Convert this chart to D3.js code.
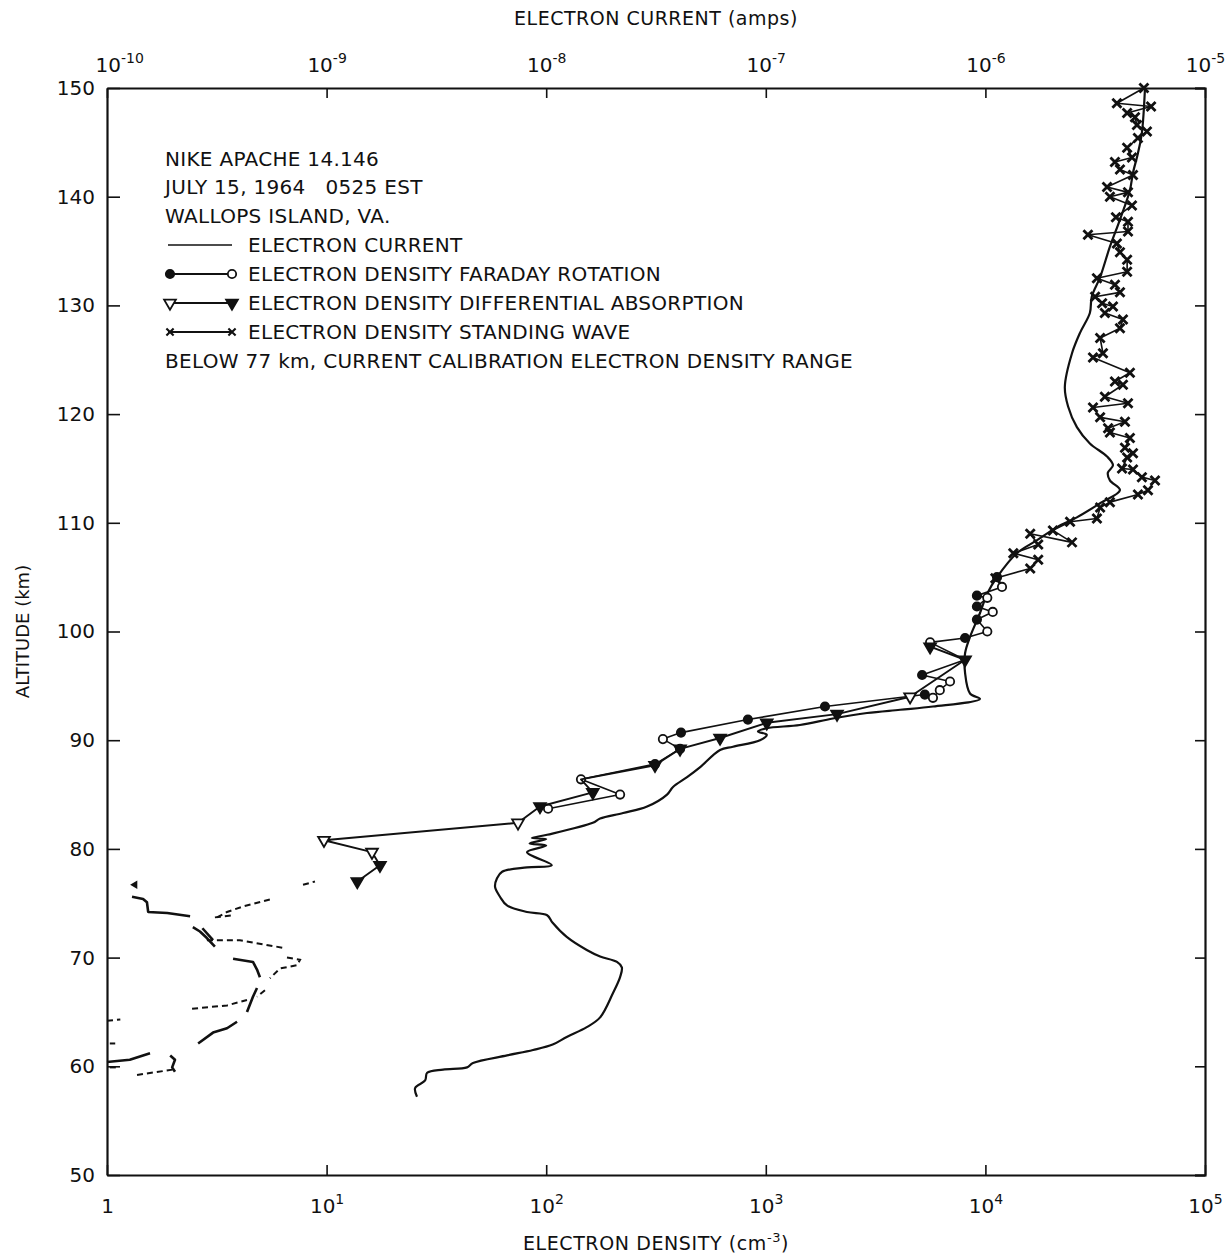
<!DOCTYPE html>
<html>
<head>
<meta charset="utf-8">
<script src="https://cdn.jsdelivr.net/npm/d3@7"></script>
<style>
  body { margin: 0; background: #fff; }
  text { font-family: "DejaVu Sans", sans-serif; fill: #111; }
</style>
</head>
<body>
<div id="chart"></div>
<script>
var svgW = 1232;
var svgH = 1257;

var margin = {
  top: 88,
  right: 27,
  bottom: 82,
  left: 107
};

var width = svgW - margin.left - margin.right;
var height = svgH - margin.top - margin.bottom;

// axes
var densityTicks = [1, 1e1, 1e2, 1e3, 1e4, 1e5];
var currentTicks = [1e-10, 1e-9, 1e-8, 1e-7, 1e-6, 1e-5];
var altTicks = [50, 60, 70, 80, 90, 100, 110, 120, 130, 140, 150];

// electron current (amps, top axis) vs altitude (km)
var currentAlt = [57.2, 58.0, 58.7, 59.4, 59.7, 59.9, 60.3, 61.0, 61.5, 62.0, 62.7, 63.6, 64.5, 66.7, 68.2, 69.1, 69.6, 70.1, 70.7, 71.9,
  73.2, 73.9, 74.2, 74.8, 75.6, 76.5, 77.3, 77.9, 78.3, 78.5, 79.7, 80.3, 80.5, 80.9, 81.0, 81.3, 82.4, 82.8, 83.3, 83.9,
  85.0, 85.7, 86.6, 87.5, 89.1, 89.4, 90.0, 90.5, 90.8, 91.1, 91.4, 92.0, 92.5, 92.8, 93.1, 93.8, 94.3, 96.2, 98.0, 99.5,
  101.7, 103.5, 105.0, 107.2, 108.4, 109.6, 110.5, 111.8, 113.0, 113.9, 114.6, 115.3, 116.1, 117.3, 118.8, 120.7, 122.5,
  125.6, 127.5, 129.3, 130.8, 132.6, 135.4, 137.9, 140.6, 142.2, 144.0, 145.9, 150.0];
var currentAmps = [2.58e-9, 2.53e-9, 2.81e-9, 2.87e-9, 3.39e-9, 4.36e-9, 4.64e-9, 6.63e-9, 8.71e-9, 1.07e-8, 1.24e-8, 1.53e-8,
  1.76e-8, 2.01e-8, 2.17e-8, 2.21e-8, 2.10e-8, 1.76e-8, 1.53e-8, 1.24e-8, 1.07e-8, 1.01e-8, 8.18e-9, 6.63e-9, 6.16e-9,
  5.85e-9, 5.97e-9, 6.30e-9, 8.18e-9, 1.06e-8, 8.18e-9, 1.0e-8, 8.4e-9, 1.0e-8, 8.6e-9, 1.01e-8, 1.63e-8, 1.76e-8, 2.24e-8,
  2.88e-8, 3.55e-8, 3.78e-8, 4.38e-8, 5.01e-8, 6.19e-8, 7.09e-8, 9.41e-8, 1.01e-7, 9.21e-8, 1.01e-7, 1.43e-7, 2.02e-7,
  2.89e-7, 4.09e-7, 5.77e-7, 9.45e-7, 8.51e-7, 8.08e-7, 8.08e-7, 8.51e-7, 9.45e-7, 1.02e-6, 1.13e-6, 1.39e-6, 1.72e-6,
  2.12e-6, 2.61e-6, 3.33e-6, 4.10e-6, 3.69e-6, 3.61e-6, 3.81e-6, 3.58e-6, 2.99e-6, 2.61e-6, 2.38e-6, 2.30e-6, 2.48e-6,
  2.70e-6, 2.99e-6, 3.05e-6, 3.33e-6, 3.69e-6, 4.10e-6, 4.55e-6, 4.70e-6, 4.95e-6, 5.16e-6, 5.33e-6];

// Faraday rotation (f = filled circle, o = open circle, n = no marker)
var faradayAlt = [83.7, 85.0, 86.4, 87.8, 89.2, 90.1, 90.7, 91.9, 93.1, 94.2, 93.9, 94.6, 95.4, 96.0, 97.4, 99.0, 99.4,
  100.0, 101.1, 101.8, 102.3, 103.1, 103.3, 104.1, 105.0];
var faradayDen = [102, 217, 144, 313, 407, 340, 411, 829, 1860, 5300, 5770, 6200, 6900, 5150, 8080, 5600, 8080,
  10200, 9150, 10800, 9150, 10200, 9150, 11900, 11300];
var faradayMark = ["o", "o", "o", "f", "f", "o", "f", "f", "f", "f", "o", "o", "o", "f", "n", "o", "f",
  "o", "f", "o", "f", "o", "f", "o", "f"];

// differential absorption (f = filled triangle, o = open triangle)
var absorptionAlt = [77.0, 78.5, 79.7, 80.8, 82.4, 83.9, 85.2, 86.4, 87.7, 89.2, 90.2, 91.6, 92.4, 94.0, 97.4, 98.6];
var absorptionDen = [13.8, 17.5, 16.1, 9.73, 74.4, 93.7, 163, 144, 313, 407, 619, 1010, 2110, 4540, 8080, 5600];
var absorptionMark = ["f", "f", "o", "o", "o", "f", "f", "n", "f", "f", "f", "f", "f", "o", "f", "f"];

// standing wave
var waveAlt = [104.9, 105.8, 106.6, 107.2, 108.0, 109.0, 108.2, 109.3, 110.1, 110.4, 111.4, 111.9, 112.6, 113.0, 113.9,
  114.2, 114.9, 115.0, 116.0, 116.4, 116.9, 117.8, 118.3, 118.7, 119.3, 119.7, 120.6, 121.0, 121.6, 122.7, 123.0, 123.8,
  125.2, 125.6, 127.0, 127.9, 128.7, 129.3, 129.9, 130.2, 130.8, 131.2, 131.9, 132.5, 133.1, 134.2, 134.9, 135.7, 136.5,
  136.8, 137.7, 138.1, 139.2, 140.0, 140.4, 140.9, 142.0, 142.5, 143.2, 143.6, 144.5, 145.4, 146.0, 146.6, 147.3, 147.7,
  148.3, 148.6, 150.0];
var waveDen = [11100, 16000, 17400, 13400, 17400, 16000, 24800, 20300, 24300, 32200, 33300, 36900, 49500, 55000, 59200,
  51600, 47000, 41900, 44200, 47000, 43200, 45500, 36900, 36200, 43200, 33300, 30900, 44600, 35000, 42300, 38900, 45500,
  30900, 34300, 33300, 41000, 42300, 35000, 38100, 34000, 31600, 41000, 38900, 32200, 44200, 44200, 41000, 39700, 29300,
  44600, 44600, 39300, 46500, 36900, 44600, 35800, 47000, 41000, 38900, 46500, 44200, 49500, 54400, 49000, 48000, 44200,
  56800, 39700, 52700];

// below 77 km: calibration range fragments, [density, altitude]
var calibSolid = [
  [[1.30, 75.6], [1.46, 75.4], [1.52, 75.1], [1.54, 74.2], [1.88, 74.1], [2.39, 73.8]],
  [[2.46, 72.8], [2.65, 72.4], [2.85, 71.8], [3.10, 71.0]],
  [[2.72, 72.7], [3.04, 71.6]],
  [[3.75, 69.9], [4.62, 69.6], [4.82, 68.9], [4.97, 68.2]],
  [[4.82, 67.2], [4.62, 66.4], [4.34, 65.0]],
  [[2.60, 62.1], [3.04, 63.1], [3.52, 63.5], [3.91, 64.1]],
  [[1.0, 60.4], [1.27, 60.6], [1.57, 61.2]],
  [[1.94, 61.0], [2.04, 60.6], [1.98, 59.9], [2.04, 59.5]]
];
var calibDashed = [
  [[7.81, 76.7], [8.85, 77.0]],
  [[3.17, 73.7], [3.52, 74.2], [4.16, 74.7], [5.64, 75.4]],
  [[3.10, 73.7], [3.75, 73.9]],
  [[2.85, 71.6], [4.03, 71.6], [6.33, 70.9]],
  [[6.60, 70.0], [7.57, 69.8], [7.33, 69.3], [6.13, 69.0], [5.52, 68.1]],
  [[5.24, 67.0], [4.82, 66.4]],
  [[2.44, 65.3], [3.52, 65.6], [4.34, 66.1]],
  [[1.0, 64.2], [1.15, 64.3]],
  [[1.03, 62.1], [1.09, 62.1]],
  [[1.03, 59.9], [1.12, 59.9]],
  [[1.37, 59.2], [2.0, 59.7]]
];
var calibArrow = [[1.34, 76.7]];

var headerLines = ["NIKE APACHE 14.146", "JULY 15, 1964   0525 EST", "WALLOPS ISLAND, VA."];
var seriesLabels = ["ELECTRON CURRENT", "ELECTRON DENSITY FARADAY ROTATION",
  "ELECTRON DENSITY DIFFERENTIAL ABSORPTION", "ELECTRON DENSITY STANDING WAVE"];
var footLine = "BELOW 77 km, CURRENT CALIBRATION ELECTRON DENSITY RANGE";


var svg = d3.select("#chart")
  .append("svg")
  .attr("width", svgW)
  .attr("height", svgH);

var chartGroup = svg.append("g")
  .attr("transform", `translate(${margin.left}, ${margin.top})`);

var xDensity = d3.scaleLog().domain([1, 1e5]).range([0, width]);
var xCurrent = d3.scaleLog().domain([1e-10, 1e-5]).range([0, width]);
var yAlt = d3.scaleLinear().domain([50, 150]).range([height, 0]);

function powerLabel(sel, exp) {
  sel.text(null);
  sel.append("tspan").text("10");
  sel.append("tspan").attr("dy", -9).attr("font-size", 14).text(exp);
}

function styleAxis(g) {
  g.attr("font-size", 20);
  g.select(".domain").attr("stroke-width", 2.2).attr("stroke", "#111");
  g.selectAll(".tick line").attr("stroke-width", 1.6).attr("stroke", "#111");
  g.selectAll(".tick text").attr("fill", "#111");
}

// bottom axis
var xAxis = chartGroup.append("g")
  .attr("transform", `translate(0, ${height})`)
  .call(d3.axisBottom(xDensity).tickValues(densityTicks).tickSize(-10).tickSizeOuter(0).tickPadding(24))
  .call(styleAxis);
xAxis.selectAll(".tick text").each(function(d) {
  var e = Math.round(Math.log10(d));
  if (e === 0) d3.select(this).text("1");
  else powerLabel(d3.select(this), String(e));
});

// top axis
var topAxis = chartGroup.append("g")
  .call(d3.axisTop(xCurrent).tickValues(currentTicks).tickSize(-10).tickSizeOuter(0).tickPadding(16))
  .call(styleAxis);
topAxis.selectAll(".tick text").each(function(d, i) {
  var e = Math.round(Math.log10(d));
  powerLabel(d3.select(this), "-" + Math.abs(e));
  if (i === 0) d3.select(this).attr("text-anchor", "start").attr("x", -12);
});

// left and right axes
chartGroup.append("g")
  .call(d3.axisLeft(yAlt).tickValues(altTicks).tickSize(-13).tickSizeOuter(0).tickPadding(12))
  .call(styleAxis);

chartGroup.append("g")
  .attr("transform", `translate(${width}, 0)`)
  .call(d3.axisRight(yAlt).tickValues(altTicks).tickSize(-10).tickFormat(""))
  .call(styleAxis);

// axis titles
svg.append("text")
  .attr("x", margin.left + width / 2)
  .attr("y", 25)
  .attr("text-anchor", "middle")
  .attr("font-size", 19)
  .attr("letter-spacing", 0.5)
  .text("ELECTRON CURRENT (amps)");

var bottomTitle = svg.append("text")
  .attr("x", margin.left + width / 2)
  .attr("y", 1250)
  .attr("text-anchor", "middle")
  .attr("font-size", 19)
  .attr("letter-spacing", 0.6);
bottomTitle.append("tspan").text("ELECTRON DENSITY (cm");
bottomTitle.append("tspan").attr("dy", -8).attr("font-size", 13).text("-3");
bottomTitle.append("tspan").attr("dy", 8).text(")");

svg.append("text")
  .attr("transform", `translate(29, ${margin.top + height / 2}) rotate(-90)`)
  .attr("text-anchor", "middle")
  .attr("font-size", 18)
  .text("ALTITUDE (km)");

// electron current curve
var currentData = d3.zip(currentAmps, currentAlt);
var currentLine = d3.line()
  .x(d => xCurrent(d[0]))
  .y(d => yAlt(d[1]))
  .curve(d3.curveCatmullRom.alpha(0.5));

chartGroup.append("path")
  .datum(currentData)
  .attr("d", currentLine)
  .attr("fill", "none")
  .attr("stroke", "#111")
  .attr("stroke-width", 2.2)
  .attr("stroke-linejoin", "round");

// calibration fragments below 77 km
var densityLine = d3.line()
  .x(d => xDensity(d[0]))
  .y(d => yAlt(d[1]));

chartGroup.selectAll(".calib-solid")
  .data(calibSolid)
  .enter()
  .append("path")
  .attr("d", densityLine)
  .attr("fill", "none")
  .attr("stroke", "#111")
  .attr("stroke-width", 2.6)
  .attr("stroke-linejoin", "round");

chartGroup.selectAll(".calib-dashed")
  .data(calibDashed)
  .enter()
  .append("path")
  .attr("d", densityLine)
  .attr("fill", "none")
  .attr("stroke", "#111")
  .attr("stroke-width", 2)
  .attr("stroke-dasharray", "6,4");

chartGroup.selectAll(".calib-arrow")
  .data(calibArrow)
  .enter()
  .append("path")
  .attr("d", d3.symbol().type(d3.symbolTriangle).size(30))
  .attr("transform", d => `translate(${xDensity(d[0])}, ${yAlt(d[1])}) rotate(-90)`)
  .attr("fill", "#111");

// marker helpers
var circlePath = d3.symbol().type(d3.symbolCircle).size(55);
var trianglePath = d3.symbol().type(d3.symbolTriangle).size(60);
var crossPath = "M-4.5,-4.5L4.5,4.5M-4.5,4.5L4.5,-4.5";

function drawSeries(den, alt, width) {
  chartGroup.append("path")
    .datum(d3.zip(den, alt))
    .attr("d", densityLine)
    .attr("fill", "none")
    .attr("stroke", "#111")
    .attr("stroke-width", width)
    .attr("stroke-linejoin", "round");
}

// Faraday rotation
drawSeries(faradayDen, faradayAlt, 1.6);
chartGroup.selectAll(".faraday")
  .data(d3.zip(faradayDen, faradayAlt, faradayMark).filter(d => d[2] !== "n"))
  .enter()
  .append("path")
  .attr("d", circlePath)
  .attr("transform", d => `translate(${xDensity(d[0])}, ${yAlt(d[1])})`)
  .attr("fill", d => d[2] === "f" ? "#111" : "#fff")
  .attr("stroke", "#111")
  .attr("stroke-width", 1.8);

// differential absorption
drawSeries(absorptionDen, absorptionAlt, 1.9);
chartGroup.selectAll(".absorption")
  .data(d3.zip(absorptionDen, absorptionAlt, absorptionMark).filter(d => d[2] !== "n"))
  .enter()
  .append("path")
  .attr("d", trianglePath)
  .attr("transform", d => `translate(${xDensity(d[0])}, ${yAlt(d[1])}) rotate(180)`)
  .attr("fill", d => d[2] === "f" ? "#111" : "#fff")
  .attr("stroke", "#111")
  .attr("stroke-width", 1.8);

// standing wave
drawSeries(waveDen, waveAlt, 1.6);
chartGroup.selectAll(".wave")
  .data(d3.zip(waveDen, waveAlt))
  .enter()
  .append("path")
  .attr("d", crossPath)
  .attr("transform", d => `translate(${xDensity(d[0])}, ${yAlt(d[1])})`)
  .attr("fill", "none")
  .attr("stroke", "#111")
  .attr("stroke-width", 2.8);

// legend block
var legend = svg.append("g").attr("font-size", 20).attr("letter-spacing", 0.3);
var rowY = [166, 194, 223, 252, 281, 310, 339, 368];

headerLines.forEach(function(t, i) {
  legend.append("text")
    .attr("x", 165)
    .attr("y", rowY[i])
    .style("white-space", "pre")
    .text(t);
});

seriesLabels.forEach(function(t, i) {
  var yy = rowY[i + 3];
  var ly = yy - 7;
  legend.append("line")
    .attr("x1", 168).attr("x2", 232)
    .attr("y1", ly).attr("y2", ly)
    .attr("stroke", "#111")
    .attr("stroke-width", i === 0 ? 1.6 : 2);
  if (i === 1) {
    legend.append("path").attr("d", circlePath).attr("transform", `translate(170, ${ly})`)
      .attr("fill", "#111").attr("stroke", "#111").attr("stroke-width", 1.8);
    legend.append("path").attr("d", circlePath).attr("transform", `translate(232, ${ly})`)
      .attr("fill", "#fff").attr("stroke", "#111").attr("stroke-width", 1.8);
  } else if (i === 2) {
    legend.append("path").attr("d", trianglePath).attr("transform", `translate(170, ${ly}) rotate(180)`)
      .attr("fill", "#fff").attr("stroke", "#111").attr("stroke-width", 1.8);
    legend.append("path").attr("d", trianglePath).attr("transform", `translate(232, ${ly}) rotate(180)`)
      .attr("fill", "#111").attr("stroke", "#111").attr("stroke-width", 1.8);
  } else if (i === 3) {
    [170, 232].forEach(function(px) {
      legend.append("path").attr("d", crossPath).attr("transform", `translate(${px}, ${ly}) scale(0.8)`)
        .attr("fill", "none").attr("stroke", "#111").attr("stroke-width", 2.6);
    });
  }
  legend.append("text")
    .attr("x", 248)
    .attr("y", yy)
    .text(t);
});

legend.append("text")
  .attr("x", 165)
  .attr("y", rowY[7])
  .text(footLine);
</script>
</body>
</html>
